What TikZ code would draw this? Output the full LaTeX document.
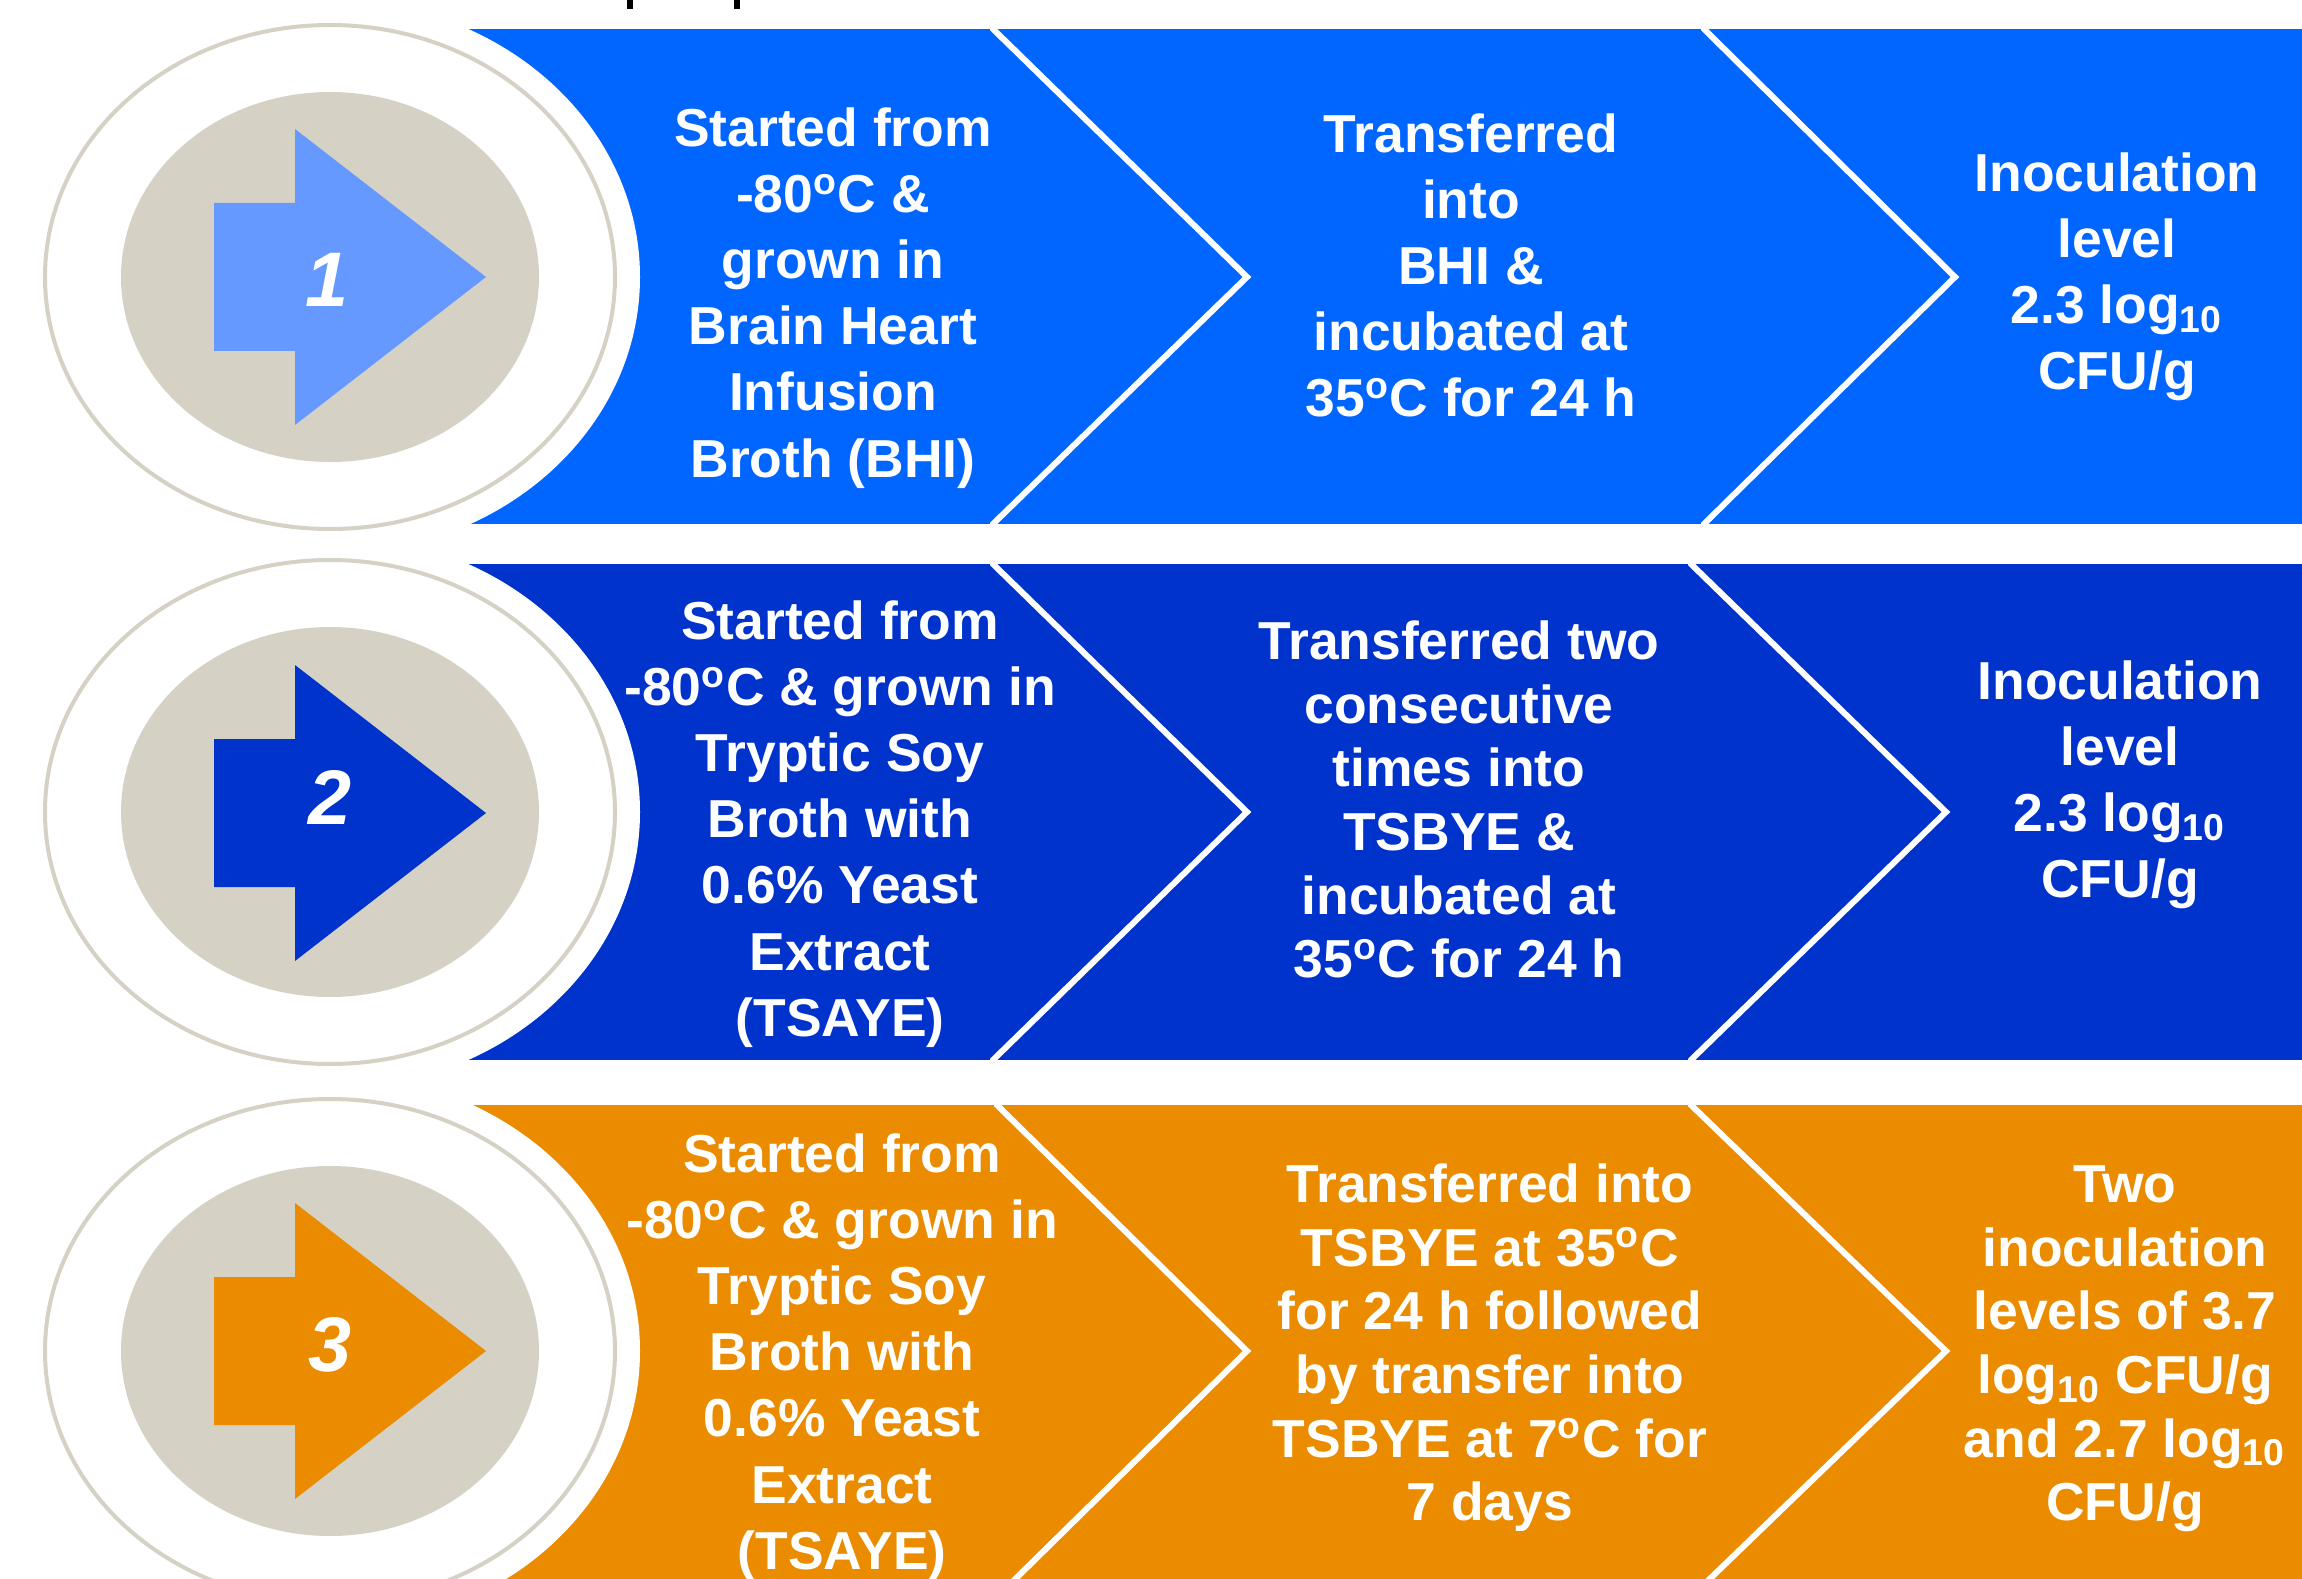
\documentclass[tikz,border=0pt]{standalone}
\usepackage{fontspec}
\setmainfont{Liberation Sans}
\usetikzlibrary{shapes.geometric, calc}

\definecolor{rowblue}{HTML}{0066FF}
\definecolor{rowdark}{HTML}{0033CC}
\definecolor{roworange}{HTML}{EA8B00}
\definecolor{arrowlight}{HTML}{6699FF}
\definecolor{badgegray}{HTML}{D5D1C5}

\begin{document}
\begin{tikzpicture}[x=0.01cm, y=-0.01cm]
%
% Skiss:
% (1) -> start -> transfer -> level
% (2) -> start -> transfer -> level
% (3) -> start -> transfer -> level
%
% Styles
\tikzstyle{steptext} = [text=white, font=\fontsize{15.2}{18.8}\selectfont\bfseries, align=center, inner sep=0pt, anchor=north]
\tikzstyle{tighttext} = [steptext, font=\fontsize{15.2}{18.1}\selectfont\bfseries]
\tikzstyle{numtext} = [text=white, font=\fontsize{22}{26}\selectfont\bfseries\itshape, inner sep=0pt]
\tikzstyle{chevron} = [draw=white, line width=0.06cm, line join=miter]
\tikzstyle{ring} = [draw=badgegray, line width=0.04cm]
\useasboundingbox (0,0) rectangle (2302,1579);
\clip (0,0) rectangle (2302,1579);
% Bands
\fill[rowblue] (330,29) rectangle (2310,524);
\fill[rowdark] (330,564) rectangle (2310,1060);
\fill[roworange] (330,1105) rectangle (2310,1610);
% Chevrons
\draw[chevron] (993,20) -- (993,29) -- (1247,277) -- (993,524) -- (993,530);
\draw[chevron] (1704,20) -- (1704,29) -- (1955,277) -- (1704,524) -- (1704,530);
\draw[chevron] (993,555) -- (993,564) -- (1247,812) -- (993,1060) -- (993,1066);
\draw[chevron] (1691,555) -- (1691,564) -- (1946,812) -- (1691,1060) -- (1691,1066);
\draw[chevron] (997,1096) -- (997,1105) -- (1247,1351) -- (997,1597) -- (997,1610);
\draw[chevron] (1691,1096) -- (1691,1105) -- (1946,1351) -- (1691,1597) -- (1691,1610);
% Badges
\fill[white] (330,277) ellipse [x radius=310, y radius=277];
\draw[ring] (330,277) ellipse [x radius=285, y radius=252];
\fill[badgegray] (330,277) ellipse [x radius=209, y radius=185];
\fill[arrowlight] (214,203) -- (295,203) -- (295,129) -- (486,277) -- (295,425) -- (295,351) -- (214,351) -- cycle;
\fill[white] (330,812) ellipse [x radius=310, y radius=277];
\draw[ring] (330,812) ellipse [x radius=285, y radius=252];
\fill[badgegray] (330,812) ellipse [x radius=209, y radius=185];
\fill[rowdark] (214,739) -- (295,739) -- (295,665) -- (486,813) -- (295,961) -- (295,887) -- (214,887) -- cycle;
\fill[white] (330,1351) ellipse [x radius=310, y radius=277];
\draw[ring] (330,1351) ellipse [x radius=285, y radius=252];
\fill[badgegray] (330,1351) ellipse [x radius=209, y radius=185];
\fill[roworange] (214,1277) -- (295,1277) -- (295,1203) -- (486,1351) -- (295,1499) -- (295,1425) -- (214,1425) -- cycle;
% Heading remains
\fill[black] (627,0) rectangle (633,9);
\fill[black] (734,0) rectangle (740,9);
% Nodes
\node (num1) [numtext] at (327,280) {1};
\node (num2) [numtext] at (330,797) {2};
\node (num3) [numtext] at (330,1345) {3};
\node (start1) [steptext] at (833,107) {Started from\\-80\textsuperscript{o}C \&\\grown in\\Brain Heart\\Infusion\\Broth (BHI)};
\node (transfer1) [steptext] at (1471,113) {Transferred\\into\\BHI \&\\incubated at\\35\textsuperscript{o}C for 24 h};
\node (level1) [steptext] at (2117,152) {Inoculation\\level\\2.3 log\textsubscript{10}\\CFU/g};
\node (start2) [steptext] at (840,600) {Started from\\-80\textsuperscript{o}C \& grown in\\Tryptic Soy\\Broth with\\0.6\% Yeast\\Extract\\(TSAYE)};
\node (transfer2) [tighttext] at (1459,620) {Transferred two\\consecutive\\times into\\TSBYE \&\\incubated at\\35\textsuperscript{o}C for 24 h};
\node (level2) [steptext] at (2120,660) {Inoculation\\level\\2.3 log\textsubscript{10}\\CFU/g};
\node (start3) [steptext] at (842,1133) {Started from\\-80\textsuperscript{o}C \& grown in\\Tryptic Soy\\Broth with\\0.6\% Yeast\\Extract\\(TSAYE)};
\node (transfer3) [tighttext] at (1490,1163) {Transferred into\\TSBYE at 35\textsuperscript{o}C\\for 24 h followed\\by transfer into\\TSBYE at 7\textsuperscript{o}C for\\7 days};
\node (level3) [tighttext] at (2125,1165) {Two\\inoculation\\levels of 3.7\\log\textsubscript{10} CFU/g\\and 2.7 log\textsubscript{10}\\CFU/g};
\end{tikzpicture}
\end{document}
